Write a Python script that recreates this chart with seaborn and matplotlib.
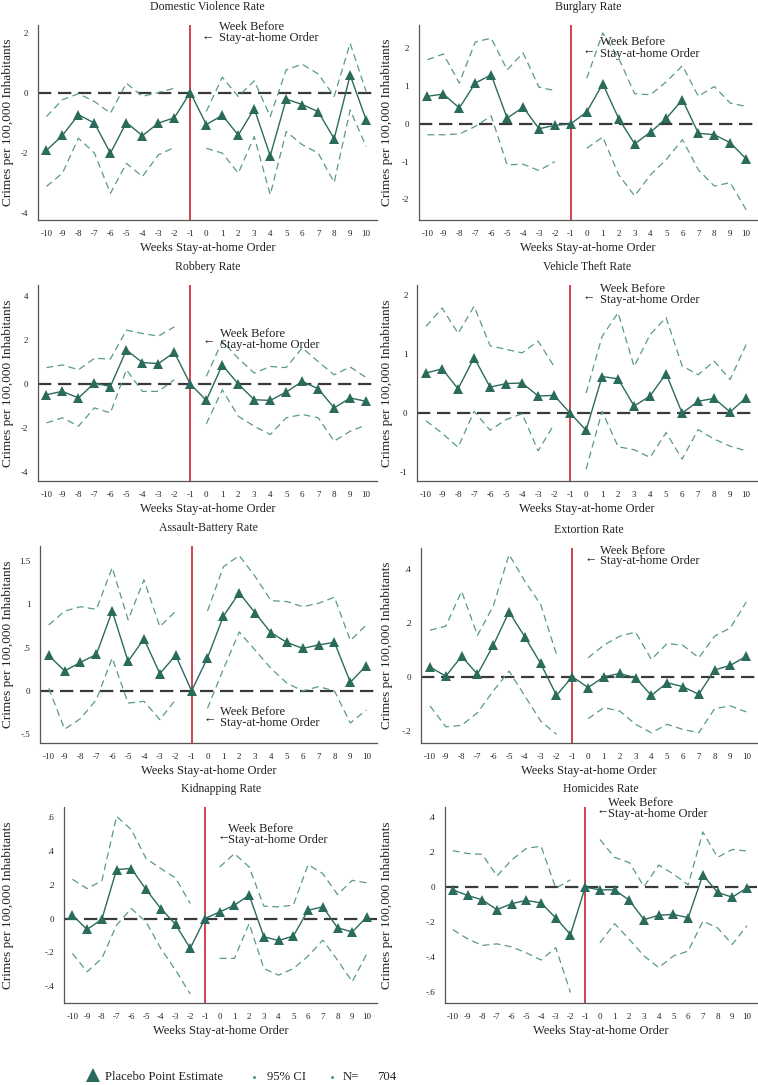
import numpy as np
import matplotlib
matplotlib.use("Agg")
import matplotlib.pyplot as plt
import matplotlib.transforms as mtransforms
from matplotlib.lines import Line2D
import seaborn as sns

sns.set_theme(style="white")
plt.rcParams["font.family"] = ["Liberation Serif", "DejaVu Serif"]
plt.rcParams["axes.unicode_minus"] = False

NA = np.nan
weeks = list(range(-10, 11))
week_labels = [str(w) for w in weeks]

titles = ["Domestic Violence Rate", "Burglary Rate", "Robbery Rate", "Vehicle Theft Rate",
          "Assault-Battery Rate", "Extortion Rate", "Kidnapping Rate", "Homicides Rate"]

# ---- Domestic violence
dv_est = [-1.93, -1.43, -0.74, -1.02, -2.02, -1.00, -1.44, -1.02, -0.84, 0.0,
          -1.07, -0.76, -1.42, -0.54, -2.11, -0.22, -0.40, -0.64, -1.54, 0.58, -0.91]
dv_hi = [-0.80, -0.24, -0.04, -0.30, -0.69, 0.31, -0.13, 0.00, 0.14, NA,
         -0.63, 0.51, -0.13, 0.39, -0.80, 0.76, 0.94, 0.62, -0.13, 1.64, 0.03]
dv_lo = [-3.13, -2.69, -1.52, -2.02, -3.36, -2.36, -2.80, -2.08, -1.83, NA,
         -1.86, -2.02, -2.69, -1.47, -3.41, -1.30, -1.74, -2.02, -3.00, -0.58, -1.80]
dv_ticks = [2, 0, -2, -4]
dv_ticklabels = ["2", "0", "-2", "-4"]

# ---- Burglary
bu_est = [0.73, 0.79, 0.42, 1.08, 1.30, 0.15, 0.44, -0.13, -0.04, 0.0,
          0.32, 1.06, 0.14, -0.53, -0.22, 0.15, 0.64, -0.25, -0.29, -0.50, -0.93]
bu_hi = [1.70, 1.85, 1.08, 2.17, 2.27, 1.43, 1.88, 0.97, 0.88, NA,
         1.21, 2.41, 1.74, 0.80, 0.77, 1.12, 1.54, 0.73, 0.99, 0.55, 0.46]
bu_lo = [-0.29, -0.29, -0.27, -0.07, 0.21, -1.09, -1.07, -1.24, -1.00, NA,
         -0.65, -0.35, -1.35, -1.91, -1.35, -0.94, -0.42, -1.22, -1.65, -1.56, -2.28]
bu_ticks = [2, 1, 0, -1, -2]
bu_ticklabels = ["2", "1", "0", "-1", "-2"]

# ---- Robbery
ro_est = [-0.48, -0.33, -0.63, 0.05, -0.11, 1.55, 0.98, 0.93, 1.44, 0.0,
          -0.74, 0.87, 0.00, -0.71, -0.74, -0.36, 0.12, -0.21, -1.08, -0.63, -0.78]
ro_hi = [0.75, 0.87, 0.65, 1.17, 1.14, 2.45, 2.30, 2.18, 2.60, NA,
         0.35, 1.95, 1.17, 0.50, 0.80, 0.75, 1.65, 1.02, 0.42, 0.78, 0.30]
ro_lo = [-1.76, -1.53, -1.91, -1.08, -1.31, 0.65, -0.33, -0.33, 0.20, NA,
         -1.80, -0.26, -1.46, -1.91, -2.29, -1.53, -1.38, -1.53, -2.59, -2.14, -1.86]
ro_ticks = [4, 2, 0, -2, -4]
ro_ticklabels = ["4", "2", "0", "-2", "-4"]

# ---- Vehicle theft
vt_est = [0.68, 0.75, 0.41, 0.94, 0.44, 0.50, 0.51, 0.29, 0.30, 0.0,
          -0.29, 0.62, 0.58, 0.12, 0.29, 0.67, 0.00, 0.20, 0.25, 0.02, 0.26]
vt_hi = [1.47, 1.78, 1.35, 1.81, 1.14, 1.08, 1.02, 1.22, 0.79, NA,
         0.34, 1.30, 1.70, 0.79, 1.33, 1.62, 0.80, 0.65, 0.88, 0.57, 1.16]
vt_lo = [-0.13, -0.34, -0.58, 0.03, -0.29, -0.11, -0.01, -0.64, -0.19, NA,
         -0.95, 0.03, -0.57, -0.62, -0.75, -0.33, -0.78, -0.28, -0.44, -0.56, -0.64]
vt_ticks = [2, 1, 0, -1]
vt_ticklabels = ["2", "1", "0", "-1"]

# ---- Assault-battery
ab_est = [0.41, 0.23, 0.33, 0.42, 0.92, 0.34, 0.60, 0.20, 0.41, 0.0,
          0.38, 0.86, 1.13, 0.90, 0.67, 0.56, 0.49, 0.53, 0.56, 0.10, 0.29]
ab_hi = [0.76, 0.92, 0.97, 0.94, 1.42, 0.82, 1.28, 0.74, 0.92, NA,
         0.92, 1.43, 1.56, 1.32, 1.04, 1.03, 0.97, 1.01, 1.08, 0.58, 0.76]
ab_lo = [0.03, -0.44, -0.32, -0.10, 0.38, -0.14, -0.12, -0.33, -0.10, NA,
         -0.20, 0.25, 0.68, 0.47, 0.26, 0.09, 0.00, 0.05, 0.00, -0.37, -0.22]
ab_ticks = [1.5, 1, 0.5, 0, -0.5]
ab_ticklabels = ["1.5", "1", ".5", "0", "-.5"]

# ---- Extortion
ex_est = [0.036, 0.002, 0.076, 0.009, 0.116, 0.240, 0.147, 0.049, -0.069, 0.0,
          -0.040, 0.000, 0.012, -0.004, -0.069, -0.022, -0.037, -0.065, 0.025, 0.042, 0.076]
ex_hi = [0.172, 0.187, 0.316, 0.153, 0.261, 0.452, 0.353, 0.267, 0.082, NA,
         0.070, 0.117, 0.150, 0.165, 0.064, 0.123, 0.116, 0.070, 0.150, 0.181, 0.276]
ex_lo = [-0.108, -0.185, -0.180, -0.133, -0.053, 0.021, -0.071, -0.164, -0.213, NA,
         -0.155, -0.114, -0.127, -0.176, -0.207, -0.176, -0.195, -0.207, -0.118, -0.108, -0.130]
ex_ticks = [0.4, 0.2, 0, -0.2]
ex_ticklabels = [".4", ".2", "0", "-.2"]

# ---- Kidnapping
kd_est = [0.020, -0.065, -0.004, 0.290, 0.296, 0.172, 0.059, -0.034, -0.177, 0.0,
          0.039, 0.079, 0.138, -0.108, -0.130, -0.104, 0.049, 0.069, -0.055, -0.079, 0.010]
kd_hi = [0.232, 0.177, 0.223, 0.605, 0.526, 0.355, 0.296, 0.240, 0.089, NA,
         0.305, 0.384, 0.305, 0.073, 0.069, 0.079, 0.319, 0.266, 0.142, 0.226, 0.211]
kd_lo = [-0.207, -0.315, -0.236, -0.039, 0.059, -0.020, -0.177, -0.305, -0.447, NA,
         -0.236, -0.236, -0.030, -0.296, -0.335, -0.296, -0.223, -0.128, -0.246, -0.374, -0.207]
kd_ticks = [0.6, 0.4, 0.2, 0, -0.2, -0.4]
kd_ticklabels = [".6", ".4", ".2", "0", "-.2", "-.4"]

# ---- Homicides
ho_est = [-0.015, -0.047, -0.072, -0.128, -0.094, -0.075, -0.090, -0.175, -0.270, 0.0,
          -0.015, -0.015, -0.075, -0.185, -0.160, -0.155, -0.174, 0.070, -0.030, -0.057, -0.004]
ho_hi = [0.208, 0.192, 0.187, 0.064, 0.155, 0.221, 0.234, -0.006, 0.042, NA,
         0.272, 0.170, 0.140, 0.004, 0.126, 0.075, 0.013, 0.315, 0.170, 0.215, 0.206]
ho_lo = [-0.242, -0.294, -0.332, -0.323, -0.340, -0.374, -0.415, -0.345, -0.600, NA,
         -0.317, -0.208, -0.298, -0.392, -0.458, -0.392, -0.364, -0.194, -0.232, -0.326, -0.219]
ho_ticks = [0.4, 0.2, 0, -0.2, -0.4, -0.6]
ho_ticklabels = [".4", ".2", "0", "-.2", "-.4", "-.6"]

legend_labels = ["Placebo Point Estimate", "95% CI", "N=", "704"]
annot_line1 = "Week Before"
annot_line2 = "Stay-at-home Order"

series = [
    (dv_est, dv_hi, dv_lo, dv_ticks, dv_ticklabels),
    (bu_est, bu_hi, bu_lo, bu_ticks, bu_ticklabels),
    (ro_est, ro_hi, ro_lo, ro_ticks, ro_ticklabels),
    (vt_est, vt_hi, vt_lo, vt_ticks, vt_ticklabels),
    (ab_est, ab_hi, ab_lo, ab_ticks, ab_ticklabels),
    (ex_est, ex_hi, ex_lo, ex_ticks, ex_ticklabels),
    (kd_est, kd_hi, kd_lo, kd_ticks, kd_ticklabels),
    (ho_est, ho_hi, ho_lo, ho_ticks, ho_ticklabels),
]

# ---- layout (pixels in a 758x1085 canvas): left, top, right, bottom
W, H = 758, 1085
boxes = [
    (37.7, 25, 377, 220), (418.7, 25, 757, 220),
    (37.7, 285, 377, 481), (417.3, 285, 757, 481),
    (40.0, 546, 377, 743), (421.3, 548, 757, 743),
    (64.3, 807, 377, 1003), (444.7, 807, 757, 1003),
]
ylims = [(-4.25, 2.25), (-2.55, 2.62), (-4.4, 4.5), (-1.15, 2.17),
         (-0.6, 1.67), (-0.245, 0.476), (-0.50, 0.66), (-0.66, 0.457)]
# arrow_x, arrow_y, text_x, y_line1, y_line2
annots = [
    (-0.27, 1.84, 0.77, 2.20, 1.81),
    (-0.27, 1.92, 0.83, 2.16, 1.86),
    (-0.23, 1.92, 0.83, 2.27, 1.77),
    (-0.23, 1.96, 0.87, 2.10, 1.91),
    (-0.23, -0.33, 0.78, -0.24, -0.365),
    (-0.22, 0.434, 0.78, 0.464, 0.427),
    (-0.18, 0.479, 0.57, 0.532, 0.467),
    (-0.23, 0.428, 0.54, 0.479, 0.415),
]

EST_C = "#2a6b5c"
CI_C = "#5a9987"
RED = "#c8232c"
SPINE = "#555555"
TXT = "#222222"

fig = plt.figure(figsize=(W / 100, H / 100), dpi=100)
fig.patch.set_facecolor("white")

wk = np.array(weeks)
for i, (title, (est, hi, lo, yt, ytl), box, yl, an) in enumerate(
        zip(titles, series, boxes, ylims, annots)):
    l, t, r, b = box
    ax = fig.add_axes([l / W, 1 - b / H, (r - l) / W, (b - t) / H])
    ax.set_facecolor("white")
    hi = np.array(hi, dtype=float)
    lo = np.array(lo, dtype=float)
    pre = wk <= -2
    post = wk >= 0
    for arr in (hi, lo):
        for m in (pre, post):
            sns.lineplot(x=wk[m], y=arr[m], ax=ax, color=CI_C, lw=0.9,
                         linestyle=(0, (5.5, 3.5)), legend=False)
    ax.axhline(0, color="#3a3a3a", lw=1.6, linestyle=(0, (6.0, 3.0)), zorder=1)
    ax.axvline(-1, color=RED, lw=1.2, zorder=2)
    sns.lineplot(x=wk, y=np.array(est), ax=ax, color=EST_C, lw=1.0, marker="^",
                 markersize=7.5, markeredgewidth=0, legend=False, zorder=4)
    ax.set_xlim(-10.55, 10.68)
    ax.set_ylim(*yl)
    ax.set_xticks(weeks)
    ax.set_xticklabels(week_labels)
    ax.set_yticks(yt)
    ax.set_yticklabels(ytl)
    ax.tick_params(axis="x", length=0, labelsize=6.5, pad=7, colors=TXT)
    ax.tick_params(axis="y", length=0, labelsize=6.5, pad=7, colors=TXT)
    for s in ("top", "right"):
        ax.spines[s].set_visible(False)
    for s in ("left", "bottom"):
        ax.spines[s].set_color(SPINE)
        ax.spines[s].set_linewidth(0.9)
    ax.set_title(title, fontsize=8.5, pad=11, color=TXT)
    ax.set_xlabel("Weeks Stay-at-home Order", fontsize=9, color=TXT)
    ax.xaxis.set_label_coords(0.5, -22 / (b - t))
    ax.set_ylabel("Crimes per 100,000 Inhabitants", fontsize=9.5, color=TXT)
    lx = 14 / W if i % 2 == 0 else 393 / W
    ax.yaxis.set_label_coords(lx, 0.5,
                              transform=mtransforms.blended_transform_factory(fig.transFigure, ax.transAxes))
    axx, axy, tx, y1, y2 = an
    ax.text(axx, axy, "\u2190", fontsize=9, va="center", ha="left", color=TXT, clip_on=False)
    ax.text(tx, y1, annot_line1, fontsize=9, va="center", ha="left", color=TXT, clip_on=False)
    ax.text(tx, y2, annot_line2, fontsize=9, va="center", ha="left", color=TXT, clip_on=False)

# ---- legend
ly = 1 - 1077 / H
fig.add_artist(Line2D([93 / W], [1 - 1075 / H], marker="^", markersize=10, color=EST_C,
                      markeredgewidth=0, linestyle="none", transform=fig.transFigure))
fig.text(105 / W, ly, legend_labels[0], fontsize=9.2, va="center", ha="left", color=TXT)
fig.add_artist(Line2D([254 / W], [ly], marker="o", markersize=1.2, color=CI_C,
                      linestyle="none", transform=fig.transFigure))
fig.text(267 / W, ly, legend_labels[1], fontsize=9.2, va="center", ha="left", color=TXT)
fig.add_artist(Line2D([332 / W], [ly], marker="o", markersize=1.2, color=CI_C,
                      linestyle="none", transform=fig.transFigure))
fig.text(343 / W, ly, legend_labels[2], fontsize=9.2, va="center", ha="left", color=TXT)
fig.text(377 / W, ly, legend_labels[3], fontsize=9.2, va="center", ha="left", color=TXT)

fig.savefig("out.png", dpi=100, facecolor="white")
